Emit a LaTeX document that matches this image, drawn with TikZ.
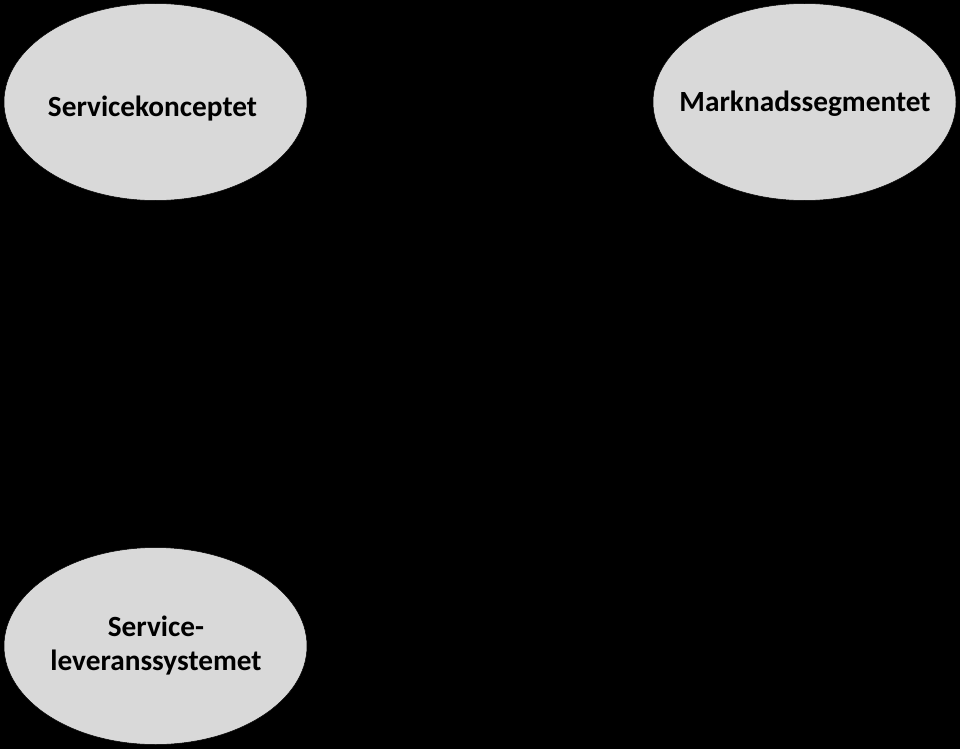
\documentclass[tikz,border=0pt]{standalone}
\usepackage{fontspec}
\setmainfont{Carlito}
\usetikzlibrary{shapes.geometric}
\definecolor{ellfill}{HTML}{D9D9D9}
\tikzset{
  ell/.style={ellipse, fill=ellfill, draw=black, line width=0.5pt, minimum width=303pt, minimum height=197pt, inner sep=0pt},
  lbl/.style={inner sep=0pt, align=center, font=\fontsize{29.3}{33.3}\selectfont\bfseries, text=black, anchor=base}
}
\begin{document}
\begin{tikzpicture}[x=1pt,y=-1pt]
\fill[black] (0,0) rectangle (960,749);
\useasboundingbox (0,0) rectangle (960,749);
\node[ell] (sk) at (155.5,102) {};
\node[ell] (ms) at (804.5,102) {};
\node[ell] (sl) at (155.5,646) {};
\node[lbl] (skt) at (152.5,116.5) {Servicekonceptet};
\node[lbl] (mst) at (805,111.7) {Marknadssegmentet};
\node[lbl] (slt) at (156,670) {Service-\\leveranssystemet};
\end{tikzpicture}
\end{document}
